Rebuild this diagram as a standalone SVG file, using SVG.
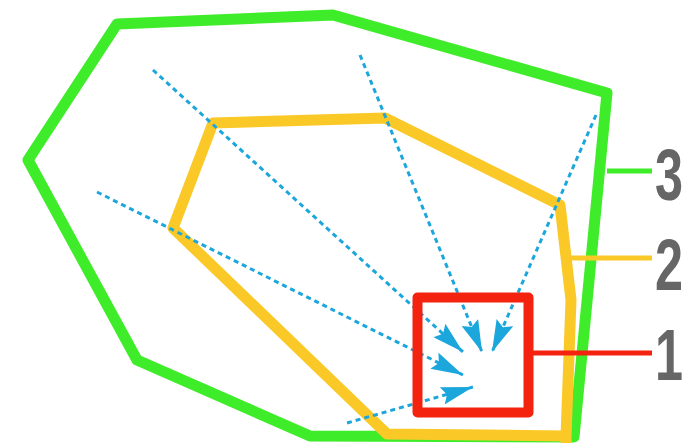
<svg xmlns="http://www.w3.org/2000/svg" width="698" height="443" viewBox="0 0 698 443">
<style>
.zone{fill:none;stroke-linejoin:round;stroke-linecap:round}
.g{stroke:#3fec2a;stroke-width:11}
.y{stroke:#fac928;stroke-width:11}
.r{stroke:#f3230f;stroke-width:10}
.ray{fill:none;stroke:#1ba6dc;stroke-width:3;stroke-dasharray:5 4;marker-end:url(#ah)}
.num{font-family:"Liberation Sans",Arial,sans-serif;font-weight:bold;font-size:72px;fill:#666}
</style>
<defs>
<marker id="ah" viewBox="0 0 32 18" refX="32" refY="9" markerWidth="32" markerHeight="18" markerUnits="userSpaceOnUse" orient="auto">
<path d="M0,0 L32,9 L0,18 L5,9 z" fill="#1ba6dc"/>
</marker>
</defs>
<rect width="698" height="443" fill="#fff"/>
<g id="zone3">
<polygon class="zone g" points="117,24 333,15 607,93 574,437 310,436 137,360 28,160"/>
<line x1="607" y1="171" x2="652" y2="171" stroke="#3fec2a" stroke-width="5"/>
<text class="num" transform="translate(655,200) scale(0.7,1)">3</text>
</g>
<g id="zone2">
<polyline class="zone y" points="566,443 566,437 571,300 560,205 385,118 213,123 173,228 387,434 566,436"/>
<line x1="569" y1="258" x2="652" y2="258" stroke="#fac928" stroke-width="5"/>
<text class="num" transform="translate(655,290) scale(0.7,1)">2</text>
</g>
<g id="connectors">
<line class="ray" x1="153" y1="70" x2="463" y2="352"/>
<line class="ray" x1="360" y1="55" x2="482" y2="352"/>
<line class="ray" x1="596" y1="115" x2="492" y2="352"/>
<line class="ray" x1="97" y1="192" x2="463" y2="375"/>
<line class="ray" x1="347" y1="423" x2="473" y2="387"/>
</g>
<g id="zone1">
<rect class="zone r" x="417.5" y="297.5" width="111" height="115"/>
<line x1="533" y1="353" x2="652" y2="353" stroke="#f3230f" stroke-width="5"/>
<text class="num" transform="translate(655,380) scale(0.7,1)">1</text>
</g>
</svg>
